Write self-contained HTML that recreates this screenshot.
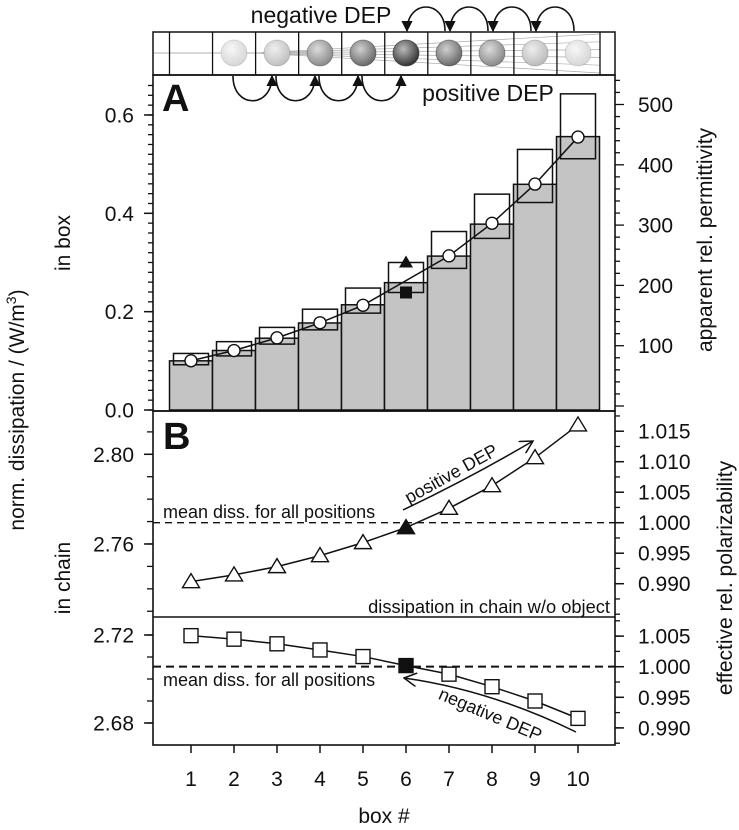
<!DOCTYPE html>
<html><head><meta charset="utf-8"><style>
html,body{margin:0;padding:0;background:#fff}
svg{display:block}
text{font-family:"Liberation Sans",Arial,sans-serif;fill:#111}
</style></head><body>
<svg id="chart" xmlns="http://www.w3.org/2000/svg" width="739" height="830" viewBox="0 0 739 830">
<defs>
<marker id="ah" viewBox="0 0 10 10" refX="9" refY="5" markerWidth="7" markerHeight="7" orient="auto-start-reverse"><path d="M0,0 L10,5 L0,10 z" fill="#111"/></marker>
<marker id="ao" viewBox="0 0 12 12" refX="11" refY="6" markerWidth="14" markerHeight="14" markerUnits="userSpaceOnUse" orient="auto"><path d="M0,0 L11,6 L0,12" fill="none" stroke="#111" stroke-width="1.3"/></marker>
</defs>
<g id="root"></g>
</svg>
<script>
// ---- data ----
const boxes = [1,2,3,4,5,6,7,8,9,10];
const barValues = [0.100,0.121,0.146,0.177,0.214,0.259,0.313,0.378,0.459,0.556];
const rangeTop = [0.115,0.139,0.168,0.205,0.248,0.300,0.363,0.439,0.530,0.643];
const rangeBottom = [0.092,0.110,0.134,0.163,0.197,0.239,0.288,0.349,0.422,0.511];
const permittivityBoxes = [1,2,3,4,5,7,8,9,10];
const permittivity = [75,92,113,138,167,249,303,368,446];
const markerTriangleA = 0.300;
const markerSquareA = 0.239;
const chainPos = [2.7432,2.7462,2.7499,2.7548,2.7606,2.7673,2.7759,2.7860,2.7985,2.8131];
const chainNeg = [2.7197,2.7181,2.7160,2.7132,2.7102,2.7061,2.7022,2.6965,2.6900,2.6821];
const meanPos = 2.7695;
const meanNeg = 2.7056;
const highlightBox = 6;
const sphereShade = [null,0.1,0.2,0.45,0.6,0.85,0.6,0.45,0.22,0.1];
const ticksA = [0.0,0.2,0.4,0.6];
const ticksAR = [100,200,300,400,500];
const ticksBU = [2.76,2.80];
const ticksBUR = [0.990,0.995,1.000,1.005,1.010,1.015];
const ticksBL = [2.68,2.72];
const ticksBLR = [0.990,0.995,1.000,1.005];

// ---- scales ----
const L=153,R=615;
const x = b => 191 + (b-1)*43;
const yA = v => 410 - v*491.7;
const yAR = v => 406 - v*0.603;
const yBU = v => 454.3 - (v-2.80)*2242;
const yBUR = v => 522.7 - (v-1.0)*6100;
const yBL = v => 635 - (v-2.72)*2200;
const yBLR = v => 666.7 - (v-1.0)*6120;

const NS="http://www.w3.org/2000/svg";
const root=document.getElementById('root');
function mk(tag,attrs,parent){const e=document.createElementNS(NS,tag);for(const k in attrs)e.setAttribute(k,attrs[k]);(parent||root).appendChild(e);return e;}
function txt(s,attrs){const e=mk('text',attrs);e.textContent=s;return e;}

// ---- top strip ----
const strip=mk('g',{});


for(let i=0;i<6;i++){mk('line',{x1:256,y1:53,x2:600,y2:34+i*7.8,stroke:'#aaa','stroke-width':0.7},strip);}
mk('line',{x1:153,y1:53,x2:256,y2:53,stroke:'#999','stroke-width':0.8},strip);
const stripRect=mk('rect',{x:153,y:32,width:462,height:43,fill:'none',stroke:'#111','stroke-width':1.5},strip);


for(let b=0;b<=10;b++){const xe=169.5+b*43.05;mk('line',{x1:xe,y1:32,x2:xe,y2:75,stroke:'#111','stroke-width':1.3},strip);}
boxes.forEach((b,i)=>{
  const s=sphereShade[i]; if(s==null) return;
  const g=mk('radialGradient',{id:'sg'+b,cx:'40%',cy:'35%',r:'65%'},document.querySelector('defs'));
  const c1=Math.round(255-s*80), c2=Math.round(235-s*215);
  mk('stop',{offset:'0%','stop-color':`rgb(${c1},${c1},${c1})`},g);
  mk('stop',{offset:'100%','stop-color':`rgb(${c2},${c2},${c2})`},g);
  const c=mk('circle',{cx:x(b),cy:53,r:13,fill:`url(#sg${b})`,stroke:`rgba(40,40,40,${0.1+s*0.7})`,'stroke-width':0.8},strip);
  
  
});
// arcs
[6,7,8,9].forEach(b=>{
  const x0=x(b+1)-4, x1=x(b)+1;
  const p=mk('path',{d:`M${x0},31 C${x0},-1 ${x1},-1 ${x1},31`,fill:'none',stroke:'#111','stroke-width':1.6,'marker-end':'url(#ah)'});
  
  
});
[2,3,4,5].forEach(b=>{
  const x0=x(b)-1, x1=x(b+1)-5;
  const p=mk('path',{d:`M${x0},76 C${x0},109 ${x1},109 ${x1},76`,fill:'none',stroke:'#111','stroke-width':1.6,'marker-end':'url(#ah)'});
  
  
});
let t=txt('negative DEP',{x:321,y:23,'font-size':23,'text-anchor':'middle'});


t=txt('positive DEP',{x:488,y:101,'font-size':23,'text-anchor':'middle'});



// ---- panel A ----
boxes.forEach((b,i)=>{
  const r=mk('rect',{x:x(b)-21.5,y:yA(barValues[i]),width:43,height:410-yA(barValues[i]),fill:'#c4c4c4',stroke:'#111','stroke-width':1.5});
  
  
});
boxes.forEach((b,i)=>{
  const r=mk('rect',{x:x(b)-17.5,y:yA(rangeTop[i]),width:35,height:yA(rangeBottom[i])-yA(rangeTop[i]),fill:'none',stroke:'#111','stroke-width':1.5});
  
  
});
const pl=mk('polyline',{points:permittivityBoxes.map((b,i)=>x(b)+','+yAR(permittivity[i])).join(' '),fill:'none',stroke:'#111','stroke-width':1.5});


permittivityBoxes.forEach((b,i)=>{
  const c=mk('circle',{cx:x(b),cy:yAR(permittivity[i]),r:6,fill:'#fff',stroke:'#111','stroke-width':1.4});
  
  
});
{const xc=x(highlightBox),yt=yA(markerTriangleA);
 const tr=mk('path',{d:`M${xc},${yt-7} L${xc+7},${yt+5} L${xc-7},${yt+5} Z`,fill:'#111'});
 
 
 const ys=yA(markerSquareA);
 const sq=mk('rect',{x:xc-6,y:ys-6,width:12,height:12,fill:'#111'});
 
 }
t=txt('A',{x:162,y:111,'font-size':38,'font-weight':'bold'});



// ---- panel B ----
function series(vals,ys,kind,hl,name){
  const p=mk('polyline',{points:boxes.map((b,i)=>x(b)+','+ys(vals[i])).join(' '),fill:'none',stroke:'#111','stroke-width':1.5});
  
  
  boxes.forEach((b,i)=>{
    const xc=x(b),yc=ys(vals[i]);const f=b===hl?'#111':'#fff';let m;
    if(kind==='tri') m=mk('path',{d:`M${xc},${yc-8} L${xc+8.5},${yc+6} L${xc-8.5},${yc+6} Z`,fill:f,stroke:'#111','stroke-width':1.4});
    else m=mk('rect',{x:xc-7,y:yc-7,width:14,height:14,fill:f,stroke:'#111','stroke-width':1.4});
    
    
  });
}
let d=mk('line',{x1:L,x2:R,y1:yBU(meanPos),y2:yBU(meanPos),stroke:'#111','stroke-width':1.3,'stroke-dasharray':'7,5'});


d=mk('line',{x1:L,x2:R,y1:yBL(meanNeg),y2:yBL(meanNeg),stroke:'#111','stroke-width':2,'stroke-dasharray':'8,5'});


series(chainPos,yBU,'tri',highlightBox,'positive-dep');
series(chainNeg,yBL,'sq',highlightBox,'negative-dep');
d=mk('line',{x1:L,x2:R,y1:617,y2:617,stroke:'#111','stroke-width':1.5});


t=txt('B',{x:163,y:449,'font-size':38,'font-weight':'bold'});


t=txt('mean diss. for all positions',{x:163,y:518,'font-size':18});


t=txt('mean diss. for all positions',{x:163,y:686,'font-size':18});


t=txt('dissipation in chain w/o object',{x:610,y:613,'font-size':18.3,'text-anchor':'end'});


let a=mk('path',{d:'M403,510 Q470,478 533,441',fill:'none',stroke:'#111','stroke-width':1.5,'marker-end':'url(#ao)'});


t=txt('positive DEP',{x:0,y:0,'font-size':18,'text-anchor':'middle',transform:'translate(454,479) rotate(-29)'});


a=mk('path',{d:'M576,732 Q490,690 404,678',fill:'none',stroke:'#111','stroke-width':1.5,'marker-end':'url(#ao)'});


t=txt('negative DEP',{x:0,y:0,'font-size':18,'text-anchor':'middle',transform:'translate(488,720) rotate(23)'});



// ---- frames ----
[[75,411],[411,745]].forEach(([y0,y1],i)=>{
  const r=mk('rect',{x:L,y:y0,width:R-L,height:y1-y0,fill:'none',stroke:'#111','stroke-width':1.6});
  
  
});

// ---- ticks & labels ----
function tick(xp,yp,len,w){mk('line',{x1:xp,x2:xp+len,y1:yp,y2:yp,stroke:'#111','stroke-width':w});}
function leftLabel(s,yp,name){const e=txt(s,{x:134,y:yp+7.5,'font-size':21,'text-anchor':'end'});}
function rightLabel(s,yp,name){const e=txt(s,{x:638,y:yp+7.5,'font-size':21});}
for(let v=0;v<=0.68;v+=0.02){const yy=yA(v);if(yy<76)break;tick(L,yy,-5,1.3);}
ticksA.forEach(v=>{tick(L,yA(v),-9,1.5);leftLabel(v.toFixed(1),yA(v),'y-tick-a-'+v.toFixed(1));});
for(let v=0;v<=540;v+=20){const yy=yAR(v);if(yy<76||yy>410)continue;tick(R,yy,v%100===0?9:5,1.3);}
ticksAR.forEach(v=>rightLabel(String(v),yAR(v),'y2-tick-a-'+v));
for(let v=2.73;v<=2.825;v+=0.01){const yy=yBU(v);if(yy<412||yy>616)continue;tick(L,yy,-6,1.3);}
ticksBU.forEach(v=>{tick(L,yBU(v),-9,1.5);leftLabel(v.toFixed(2),yBU(v),'y-tick-b-'+v.toFixed(2));});
for(let v=0.985;v<=1.0185;v+=0.0025){const yy=yBUR(v);if(yy<412||yy>616)continue;tick(R,yy,5,1.3);}
ticksBUR.forEach(v=>{tick(R,yBUR(v),9,1.5);rightLabel(v.toFixed(3),yBUR(v),'y2-tick-b-'+v.toFixed(3));});
for(let v=2.66;v<=2.73;v+=0.01){const yy=yBL(v);if(yy<618||yy>744)continue;tick(L,yy,-6,1.3);}
ticksBL.forEach(v=>{tick(L,yBL(v),-9,1.5);leftLabel(v.toFixed(2),yBL(v),'y-tick-bl-'+v.toFixed(2));});
for(let v=0.985;v<=1.0085;v+=0.0025){const yy=yBLR(v);if(yy<618||yy>744)continue;tick(R,yy,5,1.3);}
ticksBLR.forEach(v=>{tick(R,yBLR(v),9,1.5);rightLabel(v.toFixed(3),yBLR(v),'y2-tick-bl-'+v.toFixed(3));});
boxes.forEach(b=>{
  mk('line',{x1:x(b),x2:x(b),y1:745,y2:753,stroke:'#111','stroke-width':1.5});
  const e=txt(String(b),{x:x(b),y:786,'font-size':21,'text-anchor':'middle'});
  
  
});
t=txt('box #',{x:384,y:823,'font-size':21,'text-anchor':'middle'});


t=txt('',{x:0,y:0,'font-size':21,'text-anchor':'middle',transform:'translate(24,410) rotate(-90)'});
t.innerHTML='norm. dissipation / (W/m<tspan dy="-8" font-size="14">3</tspan><tspan dy="8">)</tspan>';


t=txt('in box',{x:0,y:0,'font-size':21,'text-anchor':'middle',transform:'translate(70,243) rotate(-90)'});


t=txt('in chain',{x:0,y:0,'font-size':21,'text-anchor':'middle',transform:'translate(70,578) rotate(-90)'});


t=txt('apparent rel. permittivity',{x:0,y:0,'font-size':21,'text-anchor':'middle',transform:'translate(712,240) rotate(-90)'});


t=txt('effective rel. polarizability',{x:0,y:0,'font-size':21,'text-anchor':'middle',transform:'translate(732,578) rotate(-90)'});


</script>
</body></html>
